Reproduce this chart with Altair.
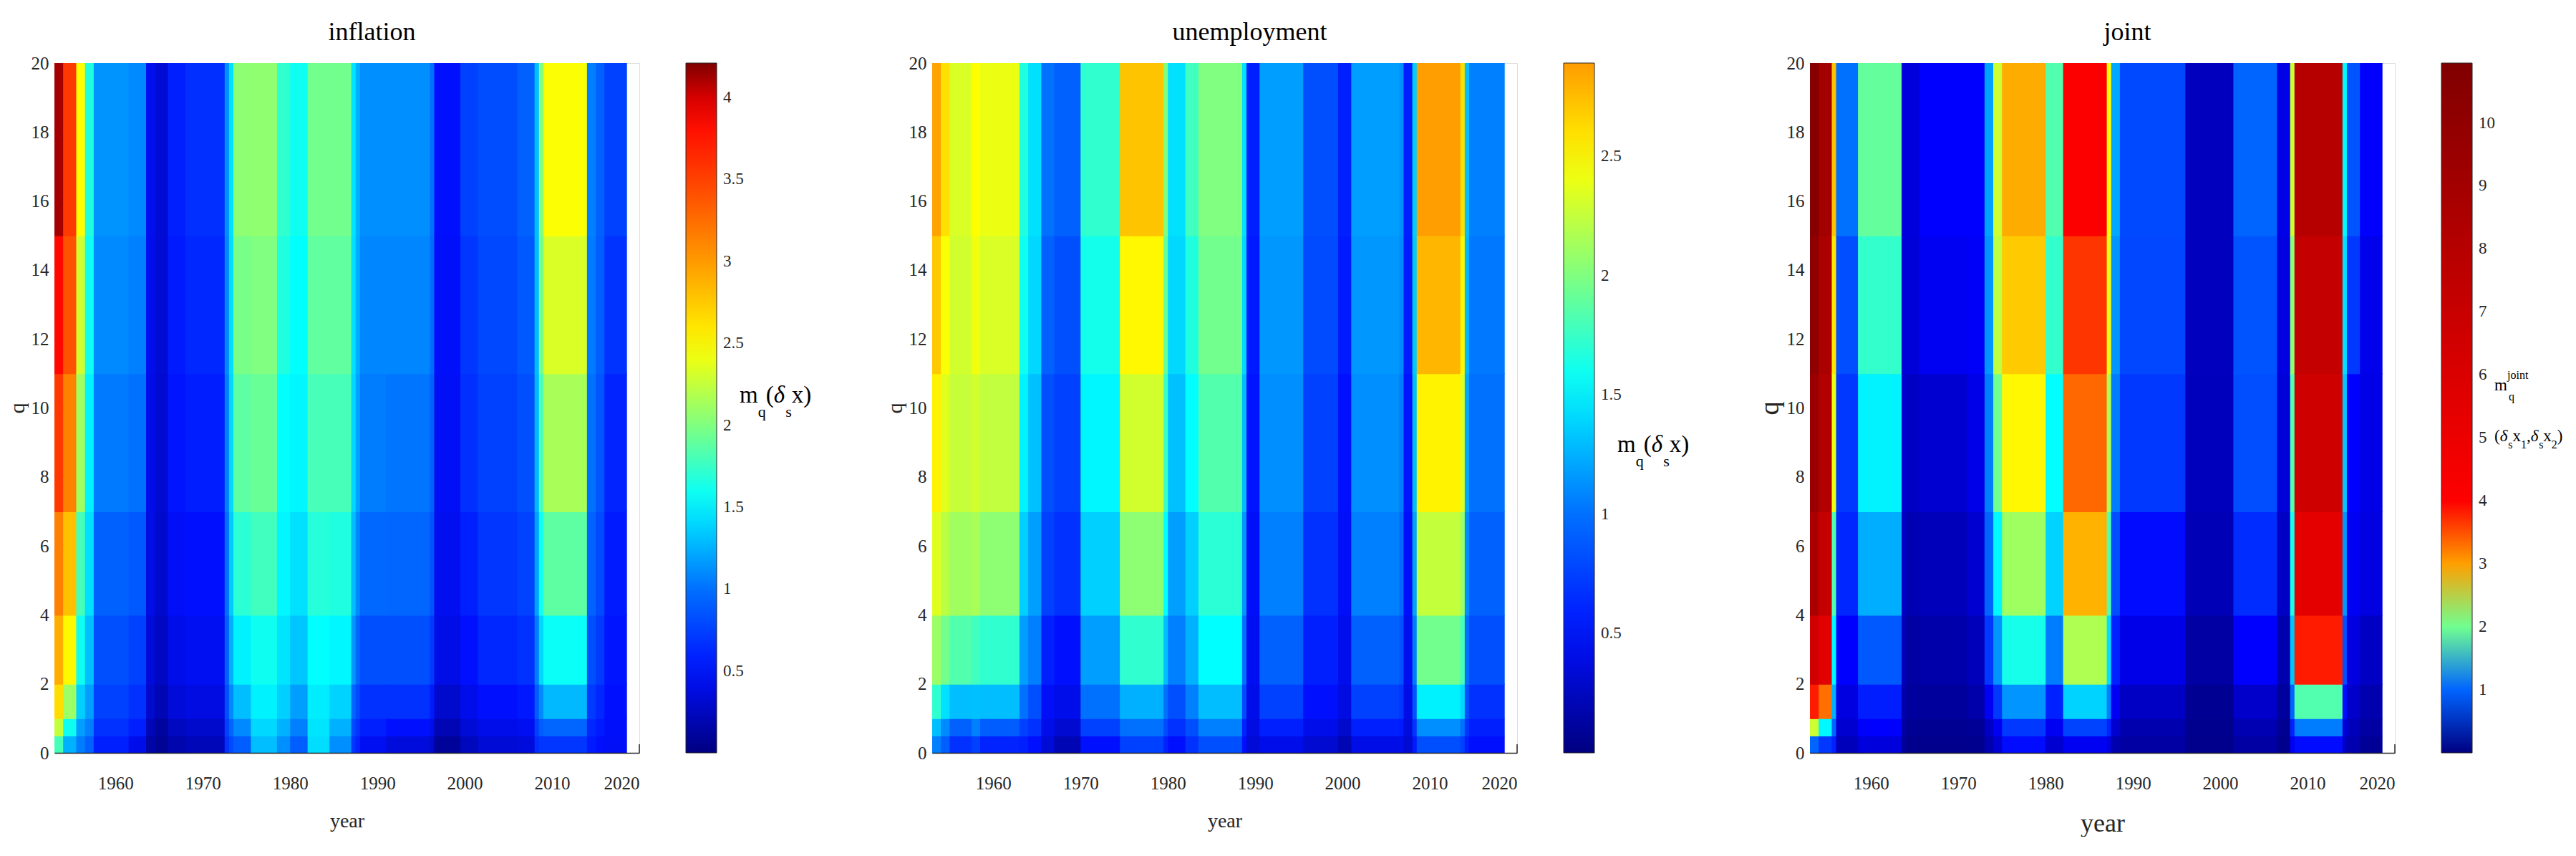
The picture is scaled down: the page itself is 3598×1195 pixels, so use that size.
import altair as alt
import pandas as pd

# ---------------- data ----------------
Q_EDGES = [0, 0.5, 1, 2, 4, 7, 11, 15, 20]
YEAR_TICKS = [1960, 1970, 1980, 1990, 2000, 2010, 2020]
Q_TICKS = [0, 2, 4, 6, 8, 10, 12, 14, 16, 18, 20]

# inflation: band edges (years) and values per band, bottom q row -> top q row
INF_EDGES = [1953, 1954, 1955.5, 1956.5, 1957.5, 1961.5, 1963.5, 1964.5, 1966, 1968,
             1972.5, 1973, 1973.5, 1975.5, 1978.5, 1980, 1982, 1984.5, 1987, 1987.5,
             1988, 1991, 1996, 1996.5, 1999.5, 2001.5, 2006, 2008, 2008.5, 2009,
             2014, 2015, 2016, 2018.5]
INF_VALUES = [
    [1.80, 2.25, 2.65, 2.90, 3.15, 3.55, 3.85, 4.12],
    [1.25, 1.60, 2.10, 2.50, 2.80, 3.14, 3.40, 3.55],
    [1.05, 1.18, 1.37, 1.60, 1.80, 2.12, 2.30, 2.47],
    [0.92, 1.06, 1.18, 1.31, 1.43, 1.50, 1.60, 1.66],
    [0.58, 0.67, 0.75, 0.83, 0.92, 1.04, 1.10, 1.14],
    [0.42, 0.58, 0.67, 0.75, 0.88, 1.00, 1.06, 1.10],
    [0.15, 0.22, 0.30, 0.35, 0.40, 0.42, 0.43, 0.44],
    [0.08, 0.12, 0.20, 0.26, 0.30, 0.32, 0.33, 0.33],
    [0.18, 0.25, 0.35, 0.42, 0.47, 0.52, 0.55, 0.58],
    [0.22, 0.30, 0.38, 0.45, 0.50, 0.57, 0.62, 0.66],
    [0.67, 0.75, 0.83, 0.92, 1.00, 1.06, 1.10, 1.12],
    [0.80, 0.95, 1.10, 1.25, 1.35, 1.40, 1.42, 1.43],
    [0.90, 1.10, 1.30, 1.50, 1.70, 1.88, 1.97, 2.05],
    [1.30, 1.40, 1.50, 1.60, 1.78, 1.92, 2.00, 2.06],
    [1.12, 1.25, 1.37, 1.45, 1.52, 1.56, 1.66, 1.72],
    [0.90, 1.06, 1.18, 1.33, 1.43, 1.52, 1.55, 1.60],
    [1.42, 1.45, 1.48, 1.55, 1.68, 1.80, 1.89, 1.95],
    [1.12, 1.25, 1.38, 1.52, 1.66, 1.80, 1.89, 1.95],
    [0.70, 0.80, 0.95, 1.15, 1.30, 1.40, 1.43, 1.45],
    [0.60, 0.70, 0.80, 0.95, 1.10, 1.20, 1.24, 1.25],
    [0.45, 0.58, 0.67, 0.83, 0.96, 1.05, 1.09, 1.12],
    [0.36, 0.50, 0.67, 0.83, 0.95, 1.02, 1.09, 1.12],
    [0.30, 0.42, 0.55, 0.72, 0.85, 0.92, 0.98, 1.00],
    [0.10, 0.20, 0.30, 0.40, 0.44, 0.46, 0.48, 0.50],
    [0.24, 0.34, 0.42, 0.50, 0.58, 0.66, 0.70, 0.75],
    [0.34, 0.42, 0.50, 0.62, 0.70, 0.75, 0.79, 0.82],
    [0.36, 0.45, 0.54, 0.67, 0.76, 0.83, 0.88, 0.92],
    [0.65, 0.75, 0.90, 1.06, 1.20, 1.28, 1.30, 1.31],
    [0.70, 0.90, 1.10, 1.40, 1.60, 1.80, 1.95, 2.00],
    [0.70, 0.95, 1.28, 1.58, 1.88, 2.15, 2.33, 2.46],
    [0.55, 0.62, 0.72, 0.83, 0.93, 1.00, 1.04, 1.06],
    [0.50, 0.55, 0.62, 0.72, 0.80, 0.86, 0.90, 0.92],
    [0.46, 0.48, 0.50, 0.52, 0.55, 0.60, 0.68, 0.75],
]

# unemployment
UNE_EDGES = [1953, 1954, 1955, 1957.5, 1958.5, 1963, 1964, 1965.5, 1967, 1970,
             1974.5, 1979.5, 1980, 1982, 1983.5, 1988.5, 1989, 1990.5, 1995.5,
             1999.5, 2001, 2006.5, 2007, 2008, 2008.5, 2013.5, 2014, 2014.5, 2018.5]
UNE_VALUES = [
    [1.06, 1.30, 1.72, 2.10, 2.35, 2.52, 2.70, 2.86],
    [0.90, 1.10, 1.43, 1.95, 2.22, 2.36, 2.45, 2.60],
    [0.67, 0.92, 1.30, 1.84, 2.12, 2.26, 2.30, 2.33],
    [0.75, 1.06, 1.31, 1.78, 2.15, 2.30, 2.42, 2.47],
    [0.60, 0.90, 1.30, 1.72, 2.05, 2.24, 2.33, 2.40],
    [0.58, 0.75, 1.00, 1.18, 1.37, 1.50, 1.60, 1.66],
    [0.50, 0.67, 0.83, 1.06, 1.18, 1.31, 1.40, 1.43],
    [0.34, 0.42, 0.47, 0.58, 0.75, 0.83, 0.92, 1.00],
    [0.20, 0.32, 0.42, 0.50, 0.67, 0.75, 0.83, 0.92],
    [0.50, 0.75, 1.00, 1.18, 1.37, 1.52, 1.62, 1.72],
    [0.75, 1.00, 1.25, 1.72, 2.05, 2.30, 2.50, 2.72],
    [0.60, 0.80, 1.00, 1.30, 1.55, 1.75, 1.90, 2.00],
    [0.50, 0.67, 0.83, 1.06, 1.18, 1.31, 1.40, 1.43],
    [0.67, 0.83, 1.06, 1.25, 1.37, 1.55, 1.66, 1.78],
    [0.83, 1.06, 1.30, 1.55, 1.70, 1.84, 1.95, 2.00],
    [0.50, 0.60, 0.80, 1.00, 1.15, 1.30, 1.40, 1.43],
    [0.34, 0.38, 0.42, 0.45, 0.48, 0.52, 0.55, 0.58],
    [0.42, 0.58, 0.75, 0.92, 1.06, 1.12, 1.15, 1.18],
    [0.32, 0.42, 0.50, 0.58, 0.67, 0.75, 0.80, 0.83],
    [0.20, 0.30, 0.38, 0.43, 0.47, 0.50, 0.55, 0.58],
    [0.40, 0.58, 0.75, 0.92, 1.06, 1.12, 1.15, 1.18],
    [0.42, 0.55, 0.70, 0.85, 0.98, 1.05, 1.10, 1.12],
    [0.32, 0.36, 0.40, 0.44, 0.48, 0.52, 0.56, 0.58],
    [0.55, 0.70, 0.85, 1.05, 1.20, 1.30, 1.35, 1.37],
    [0.83, 1.12, 1.50, 1.95, 2.25, 2.52, 2.78, 2.88],
    [0.75, 1.00, 1.40, 1.80, 2.10, 2.35, 2.50, 2.60],
    [0.58, 0.70, 0.85, 1.00, 1.12, 1.22, 1.28, 1.31],
    [0.50, 0.58, 0.67, 0.83, 0.92, 1.00, 1.03, 1.06],
]

# joint
JNT_EDGES = [1953, 1954, 1955.5, 1956, 1958.5, 1963.5, 1964, 1965.5, 1971, 1973,
             1974, 1975, 1980, 1982, 1987, 1987.5, 1988.5, 1996, 2001.5, 2006.5,
             2008, 2008.5, 2014, 2014.5, 2016, 2018.5]
JNT_VALUES = [
    [1.00, 2.30, 3.80, 6.50, 8.50, 9.50, 10.00, 10.60],
    [0.80, 1.60, 3.30, 5.50, 7.20, 8.20, 8.60, 9.00],
    [0.70, 1.00, 1.30, 1.60, 1.90, 2.40, 2.60, 2.80],
    [0.25, 0.35, 0.42, 0.55, 0.72, 0.80, 0.90, 1.05],
    [0.40, 0.55, 0.68, 0.95, 1.30, 1.58, 1.80, 1.96],
    [0.12, 0.15, 0.20, 0.25, 0.30, 0.35, 0.38, 0.40],
    [0.05, 0.08, 0.12, 0.15, 0.22, 0.30, 0.38, 0.40],
    [0.05, 0.08, 0.12, 0.18, 0.25, 0.35, 0.50, 0.55],
    [0.06, 0.10, 0.18, 0.25, 0.35, 0.45, 0.52, 0.55],
    [0.20, 0.30, 0.50, 0.80, 1.00, 1.10, 1.20, 1.25],
    [0.35, 0.50, 0.80, 1.20, 1.60, 2.00, 2.25, 2.30],
    [0.60, 0.80, 1.20, 1.70, 2.15, 2.50, 2.76, 2.93],
    [0.35, 0.50, 0.70, 1.10, 1.45, 1.63, 1.80, 1.90],
    [0.50, 0.85, 1.45, 2.20, 2.90, 3.35, 3.65, 4.10],
    [0.40, 0.70, 1.10, 1.50, 1.90, 2.20, 2.40, 2.46],
    [0.20, 0.35, 0.50, 0.70, 0.90, 1.10, 1.20, 1.28],
    [0.15, 0.20, 0.30, 0.45, 0.60, 0.80, 0.87, 0.88],
    [0.05, 0.06, 0.08, 0.15, 0.24, 0.26, 0.27, 0.27],
    [0.15, 0.22, 0.32, 0.55, 0.75, 0.90, 0.93, 1.00],
    [0.05, 0.08, 0.12, 0.20, 0.30, 0.38, 0.42, 0.45],
    [0.50, 0.70, 1.00, 1.40, 1.70, 1.90, 2.10, 2.30],
    [0.60, 1.10, 1.90, 3.80, 5.40, 6.60, 7.20, 8.00],
    [0.30, 0.40, 0.60, 0.90, 1.20, 1.40, 1.50, 1.60],
    [0.20, 0.25, 0.32, 0.42, 0.50, 0.55, 0.80, 0.93],
    [0.10, 0.15, 0.20, 0.30, 0.42, 0.44, 0.46, 0.55],
]

INF_LEGEND = [0.5, 1, 1.5, 2, 2.5, 3, 3.5, 4]
UNE_LEGEND = [0.5, 1, 1.5, 2, 2.5]
JNT_LEGEND = [1, 2, 3, 4, 5, 6, 7, 8, 9, 10]

# ---------------- styling ----------------
FONT = "Liberation Serif"
INK = "#262626"
PW, PH = 817, 963

CM_A_STOPS = [0, 0.5, 1.0, 1.55, 2.0, 2.47, 3.0, 3.5, 3.9, 4.21]
CM_A_COLORS = ["#000080", "#0010FF", "#0070FF", "#00FFFF", "#80FF80", "#FFFF00",
               "#FF9A00", "#FF4000", "#FF0000", "#800000"]
CM_B_STOPS = [0, 0.5, 1.0, 1.55, 2.0, 2.47, 2.89]
CM_B_COLORS = ["#000080", "#0010FF", "#0070FF", "#00FFFF", "#80FF80", "#FFFF00", "#FF9C00"]
CM_C_STOPS = [0, 0.55, 1.0, 1.63, 2.0, 2.46, 3.0, 3.5, 3.95, 10.95]
CM_C_COLORS = ["#000080", "#0000FF", "#0064FF", "#00FFFF", "#70FF90", "#FFFF00",
               "#FFA000", "#FF5000", "#FF0000", "#800000"]

ONE = pd.DataFrame({"k": [0]})

WIDTHS = {"m": .778, "q": .5, "(": .333, ")": .333, "δ": .5, "s": .389, "x": .5,
          "1": .5, "2": .5, ",": .25, "j": .278, "o": .5, "i": .278, "n": .5, "t": .278}


def cells(edges, values):
    rows = []
    for i, col in enumerate(values):
        for j, v in enumerate(col):
            rows.append({"x": edges[i], "x2": edges[i + 1],
                         "y": Q_EDGES[j], "y2": Q_EDGES[j + 1], "v": v})
    return pd.DataFrame(rows)


def text_run(pieces, x0, base):
    """pieces: (text, size, dy, style); laid out left to right."""
    layers = []
    x = x0
    for text, size, dy, style in pieces:
        layers.append(
            alt.Chart(ONE).mark_text(text=text, font=FONT, fontSize=size, fontStyle=style,
                                     align="left", baseline="alphabetic", color="black")
            .encode(x=alt.value(x), y=alt.value(base + dy))
        )
        x += sum(WIDTHS.get(c, .5) for c in text) * size
    return layers


def panel(title, edges, values, stops, colors, legend_vals, label_layers, big_titles=False):
    df = cells(edges, values)
    cscale = alt.Scale(domain=stops, range=colors, interpolate="rgb", clamp=True)
    tsize = 36 if big_titles else 28
    # small overlap offsets hide anti-aliasing seams between adjacent cells
    heat = alt.Chart(df).mark_rect(stroke=None, x2Offset=1, yOffset=1).encode(
        x=alt.X("x:Q", scale=alt.Scale(domain=[1953, 2020], nice=False, zero=False),
                axis=alt.Axis(values=YEAR_TICKS, format="d", title="year", ticks=False,
                              grid=False, labelFont=FONT, labelFontSize=25, labelColor=INK,
                              labelPadding=30, titleFont=FONT, titleFontSize=tsize,
                              titleFontWeight="normal", titleColor=INK, titlePadding=26,
                              domainColor=INK, domainWidth=1.5, zindex=1)),
        x2="x2:Q",
        y=alt.Y("y:Q", scale=alt.Scale(domain=[0, 20], nice=False, zero=False),
                axis=alt.Axis(values=Q_TICKS, title="q", ticks=False, domain=False,
                              grid=False, labelFont=FONT, labelFontSize=25, labelColor=INK,
                              labelPadding=8, titleFont=FONT, titleFontSize=tsize + 2,
                              titleFontWeight="normal", titleColor=INK, titlePadding=4)),
        y2="y2:Q",
        color=alt.Color("v:Q", scale=cscale,
                        legend=alt.Legend(type="gradient", orient="none",
                                          legendX=PW + 65, legendY=0,
                                          direction="vertical", title=None,
                                          gradientLength=PH, gradientThickness=43,
                                          gradientStrokeColor=INK, gradientStrokeWidth=1,
                                          values=legend_vals, format=".1~f",
                                          labelOverlap=False,
                                          labelFont=FONT, labelFontSize=23,
                                          labelColor=INK, labelOffset=9)),
    )
    tick2020 = alt.Chart(ONE).mark_rule(color=INK, strokeWidth=1.5).encode(
        x=alt.value(PW), y=alt.value(PH), y2=alt.value(PH - 12))
    return alt.layer(heat, tick2020, *label_layers).properties(
        width=PW, height=PH,
        title=alt.TitleParams(title, font=FONT, fontSize=36, fontWeight="normal",
                              color="black", frame="group", dx=35, offset=12),
    )


MQ = lambda base: text_run([("m", 33, 0, "normal"), ("q", 22, 20, "normal"),
                            ("(", 33, 0, "normal"), ("δ", 33, 0, "italic"),
                            ("s", 22, 20, "normal"), ("x)", 33, 0, "normal")], 957, base)

JOINT = (text_run([("m", 23, 0, "normal")], 956, 457)
         + text_run([("joint", 16, -16, "normal")], 974, 457)
         + text_run([("q", 16, 14, "normal")], 976, 457)
         + text_run([("(", 23, 0, "normal"), ("δ", 23, 0, "italic"), ("s", 16, 10, "normal"),
                     ("x", 23, 0, "normal"), ("1", 16, 10, "normal"), (",", 23, 0, "normal"),
                     ("δ", 23, 0, "italic"), ("s", 16, 10, "normal"), ("x", 23, 0, "normal"),
                     ("2", 16, 10, "normal"), (")", 23, 0, "normal")], 956, 528))

p1 = panel("inflation", INF_EDGES, INF_VALUES, CM_A_STOPS, CM_A_COLORS, INF_LEGEND, MQ(474))
p2 = panel("unemployment", UNE_EDGES, UNE_VALUES, CM_B_STOPS, CM_B_COLORS, UNE_LEGEND, MQ(543))
p3 = panel("joint", JNT_EDGES, JNT_VALUES, CM_C_STOPS, CM_C_COLORS, JNT_LEGEND, JOINT,
           big_titles=True)

chart = (
    alt.hconcat(p1, p2, p3, spacing=409, bounds="flush")
    .resolve_scale(color="independent", x="independent", y="independent")
    .resolve_legend(color="independent")
    .properties(padding={"left": 0, "top": 18, "right": 0, "bottom": 0})
    .configure_view(stroke=None)
    .configure(background="white")
)

chart.save("out.html", embed_options={"renderer": "svg", "actions": False})
